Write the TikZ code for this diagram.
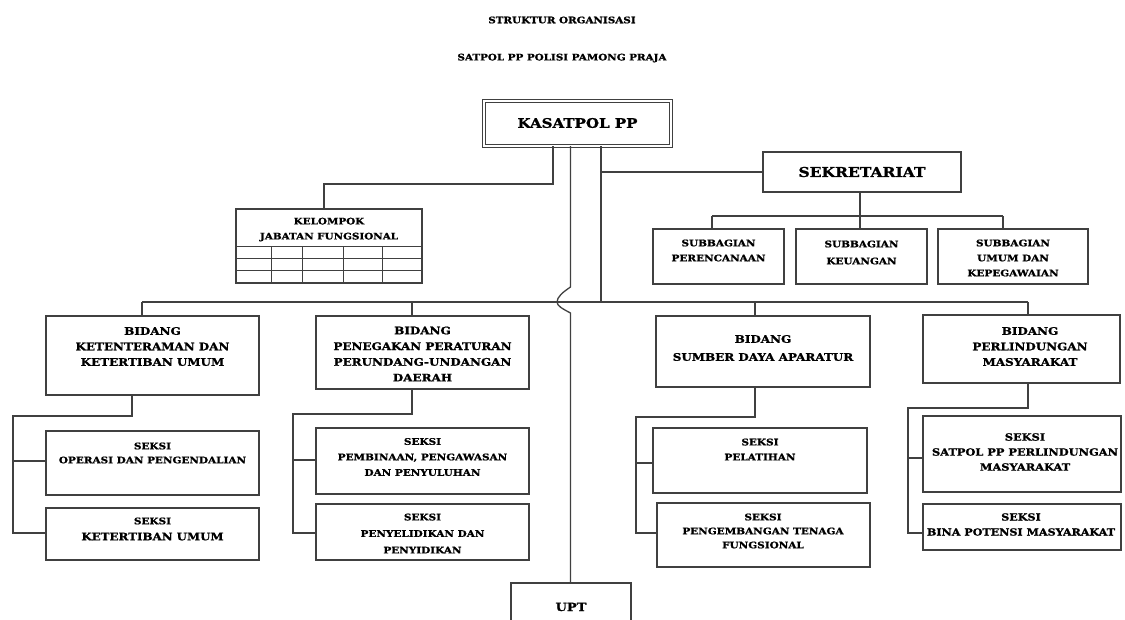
\documentclass[tikz,border=0pt]{standalone}
\usepackage{fontspec}
\setmainfont{DejaVu Serif}[FakeStretch=1.15, BoldFeatures={FakeBold=1.2}]
\newcommand\F[2]{\fontsize{#1}{#2}\selectfont}
\newcommand\bx[5]{\node[box,minimum width={(#4-#2)*1pt},minimum height={(#5-#3)*1pt}] (#1) at (#2,#3) {};}
\begin{document}
\begin{tikzpicture}[x=1pt,y=-1pt,
  lc/.style={draw=black!75, line width=1.1pt},
  box/.style={lc, rectangle, anchor=north west, inner sep=0pt, outer sep=0pt},
  txt/.style={align=center, inner sep=0pt, text=black},
]
\useasboundingbox[fill=white] (0,0) rectangle (1125,619);

% titles
\node[txt, font=\bfseries\F{9}{10}] (t1) at (562,20) {STRUKTUR ORGANISASI};
\node[txt, font=\bfseries\F{9}{10}] (t2) at (562,58) {SATPOL PP POLISI PAMONG PRAJA};

% head
\node[box, double, double distance=2pt, line width=1pt, minimum width=187pt, minimum height=45pt] (kas) at (484,101) {};
\node[txt, font=\bfseries\F{13.1}{14}] (kast) at (577.5,123) {KASATPOL PP};

% boxes
\bx{kel}{236}{209}{422}{283}
\bx{sek}{763}{152}{961}{192}
\bx{s1}{653}{229}{784}{284}
\bx{s2}{796}{229}{927}{284}
\bx{s3}{938}{229}{1088}{284}
\bx{b1}{46}{316}{259}{395}
\bx{b1a}{46}{431}{259}{495}
\bx{b1b}{46}{508}{259}{560}
\bx{b2}{316}{316}{529}{389}
\bx{b2a}{316}{428}{529}{494}
\bx{b2b}{316}{504}{529}{560}
\bx{b3}{656}{316}{870}{387}
\bx{b3a}{653}{428}{867}{493}
\bx{b3b}{657}{503}{870}{567}
\bx{b4}{923}{315}{1120}{383}
\bx{b4a}{923}{416}{1121}{492}
\bx{b4b}{923}{504}{1121}{550}
\bx{upt}{511}{583}{631}{640}

% grid in kelompok
\draw[lc, line width=0.8pt] (kel.west |- 236,246) -- (kel.east |- 422,246)
  (kel.west |- 236,258) -- (kel.east |- 422,258)
  (kel.west |- 236,270) -- (kel.east |- 422,270);
\foreach \gx in {271,302,343,382}{\draw[lc, line width=0.8pt] (\gx,246) -- (\gx,0 |- kel.south);}

% texts
\node[txt, font=\bfseries\F{9}{15}] (kelt) at (329,229.5) {KELOMPOK\\JABATAN FUNGSIONAL};
\node[txt, font=\bfseries\F{13.5}{14}] (sekt) at (862,172) {SEKRETARIAT};
\node[txt, font=\bfseries\F{9.1}{15}] (s1t) at (718.5,250.5) {SUBBAGIAN\\PERENCANAAN};
\node[txt, font=\bfseries\F{9.1}{17}] (s2t) at (861.5,252.5) {SUBBAGIAN\\KEUANGAN};
\node[txt, font=\bfseries\F{9.1}{15}] (s3t) at (1013,258) {SUBBAGIAN\\UMUM DAN\\KEPEGAWAIAN};

\node[txt, font=\bfseries\F{10.4}{15.5}] (b1t) at (152.5,346.5) {BIDANG\\KETENTERAMAN DAN\\KETERTIBAN UMUM};
\node[txt, font=\bfseries\F{9.1}{14}] (b1at) at (152.5,453) {SEKSI\\OPERASI DAN PENGENDALIAN};
\node[txt, font=\bfseries\F{9.1}{16}] (b1bt) at (152.5,529) {SEKSI\\\F{10.3}{16}KETERTIBAN UMUM};

\node[txt, font=\bfseries\F{10.4}{15.7}] (b2t) at (422.5,354) {BIDANG\\PENEGAKAN PERATURAN\\PERUNDANG-UNDANGAN\\DAERAH};
\node[txt, font=\bfseries\F{9.1}{15.5}] (b2at) at (422.5,457) {SEKSI\\PEMBINAAN, PENGAWASAN\\DAN PENYULUHAN};
\node[txt, font=\bfseries\F{9.1}{16.5}] (b2bt) at (422.5,533.5) {SEKSI\\PENYELIDIKAN DAN\\PENYIDIKAN};

\node[txt, font=\bfseries\F{10.4}{18}] (b3t) at (763,348) {BIDANG\\SUMBER DAYA APARATUR};
\node[txt, font=\bfseries\F{9.1}{15}] (b3at) at (760,449.5) {SEKSI\\PELATIHAN};
\node[txt, font=\bfseries\F{9.1}{14}] (b3bt) at (763,531) {SEKSI\\PENGEMBANGAN TENAGA\\FUNGSIONAL};

\node[txt, font=\bfseries\F{10.4}{15.5}] (b4t) at (1030,346.5) {BIDANG\\PERLINDUNGAN\\MASYARAKAT};
\node[txt, font=\bfseries\F{9.9}{15}] (b4at) at (1025,452) {SEKSI\\SATPOL PP PERLINDUNGAN\\MASYARAKAT};
\node[txt, font=\bfseries\F{9.7}{15}] (b4bt) at (1021,524.5) {SEKSI\\BINA POTENSI MASYARAKAT};

\node[txt, font=\bfseries\F{11.3}{12}] (uptt) at (571,607) {UPT};

% connectors from head
\draw[lc] (553,0 |- kas.south) |- (324,184) -- (324,0 |- kel.north);
\draw[lc, line width=1.3pt] (570.5,0 |- kas.south) -- (570.5,287) .. controls (563,292) and (557,297) .. (557,302)
  .. controls (557,306) and (563,309) .. (570.5,313) -- (570.5,0 |- upt.north);
\draw[lc] (601,0 |- kas.south) -- (601,302);
\draw[lc] (601,172) -- (sek.west);

% sekretariat
\draw[lc] (860,0 |- sek.south) -- (860,216);
\draw[lc] (712,216) -- (1003,216);
\draw[lc] (712,216) -- (712,0 |- s1.north);
\draw[lc] (860,216) -- (860,0 |- s2.north);
\draw[lc] (1003,216) -- (1003,0 |- s3.north);

% main horizontal
\draw[lc] (142,302) -- (1028,302);
\draw[lc] (142,302) -- (142,0 |- b1.north);
\draw[lc] (412,302) -- (412,0 |- b2.north);
\draw[lc] (755,302) -- (755,0 |- b3.north);
\draw[lc] (1028,302) -- (1028,0 |- b4.north);

% bidang to seksi
\draw[lc] (132,0 |- b1.south) -- (132,416) -- (13,416) -- (13,533) -- (b1b.west |- 13,533);
\draw[lc] (13,461) -- (b1a.west |- 13,461);
\draw[lc] (412,0 |- b2.south) -- (412,414) -- (293,414) -- (293,533) -- (b2b.west |- 293,533);
\draw[lc] (293,460) -- (b2a.west |- 293,460);
\draw[lc] (755,0 |- b3.south) -- (755,417) -- (636,417) -- (636,533) -- (b3b.west |- 636,533);
\draw[lc] (636,463) -- (b3a.west |- 636,463);
\draw[lc] (1028,0 |- b4.south) -- (1028,408) -- (908,408) -- (908,533) -- (b4b.west |- 908,533);
\draw[lc] (908,458) -- (b4a.west |- 908,458);
\end{tikzpicture}
\end{document}
